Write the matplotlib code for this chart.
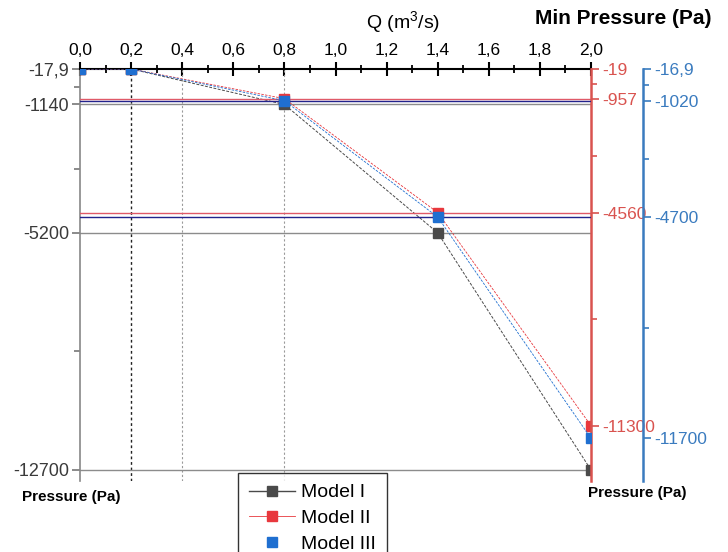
import numpy as np
import matplotlib
matplotlib.use("Agg")
from matplotlib import pyplot as plt
from matplotlib.lines import Line2D
from matplotlib.ticker import FixedLocator, FuncFormatter

plt.rcParams['font.family'] = ['Liberation Sans', 'DejaVu Sans']
plt.rcParams['mathtext.default'] = 'regular'

# flow rate (m3/s) and min pressure (Pa) for each model
q = [0.0, 0.2, 0.8, 1.4, 2.0]
p_model1 = [-17.9, -17.9, -1140, -5200, -12700]
p_model2 = [-19, -19, -957, -4560, -11300]
p_model3 = [-16.9, -16.9, -1020, -4700, -11700]
names = ['Model I', 'Model II', 'Model III']

# reference lines drawn across the plot
ref1 = [-1140, -5200, -12700]
ref2 = [-957, -4560]
ref3 = [-1020, -4700]
vlines = [0.2, 0.4, 0.8]

c1 = '#4a4a4a'
c2 = '#e8383d'
c3 = '#1f6fd0'
c2_axis = '#d9534f'
c3_axis = '#3a7bbf'


def fmt(v):
    s = ('%.1f' % v) if v != int(v) else ('%d' % v)
    return s.replace('.', ',')


def mids(vals):
    v = sorted(set(vals))
    return [(a + b) / 2. for a, b in zip(v[:-1], v[1:])]


fig = plt.figure(figsize=(7.28, 5.52), dpi=100)
L, R, T, B = 80 / 728., 591 / 728., 1 - 69 / 552., 1 - 481 / 552.
ax = fig.add_axes([L, B, R - L, T - B])
axr = ax.twinx()
axb = ax.twinx()

ax.set_xlim(0, 2.0)
ax.set_ylim(-13050, -17.9)
axr.set_ylim(-13050, -19)
axb.set_ylim(-13050, -16.9)

# top Q axis
ax.xaxis.tick_top()
ax.set_xticks(np.arange(0, 2.01, 0.2))
ax.xaxis.set_minor_locator(FixedLocator(np.arange(0.1, 2.0, 0.2)))
ax.xaxis.set_major_formatter(FuncFormatter(lambda v, p: ('%.1f' % v).replace('.', ',')))
ax.tick_params(axis='x', which='major', direction='inout', length=10, width=1.5,
               labelsize=12.5, pad=3, colors='black')
ax.tick_params(axis='x', which='minor', direction='inout', length=6, width=1.3, colors='black')

# left axis (Model I)
ax.set_yticks(sorted(set(p_model1)))
ax.set_yticklabels([fmt(v) for v in sorted(set(p_model1))])
ax.yaxis.set_minor_locator(FixedLocator(mids(p_model1)))
ax.tick_params(axis='y', which='major', direction='out', length=6, width=1.2,
               labelsize=13, colors='#777777', labelcolor='#3a3a3a', pad=2)
ax.tick_params(axis='y', which='minor', direction='out', length=4, width=1.2, colors='#777777')

# right axes (Model II, Model III)
for a, vals, col in [(axr, p_model2, c2_axis), (axb, p_model3, c3_axis)]:
    a.set_yticks(sorted(set(vals)))
    a.set_yticklabels([fmt(v) for v in sorted(set(vals))])
    a.yaxis.set_minor_locator(FixedLocator(mids(vals)))
    a.tick_params(axis='y', which='major', direction='out', length=6, width=1.2,
                  labelsize=12.5, colors=col, pad=2)
    a.tick_params(axis='y', which='minor', direction='out', length=4, width=1.2, colors=col)
    for s in ['top', 'left', 'bottom']:
        a.spines[s].set_visible(False)
    a.spines['right'].set_color(col)
    a.spines['right'].set_linewidth(1.8)
axb.spines['right'].set_position(('axes', (643 - 80) / (591 - 80.)))

ax.spines['top'].set_linewidth(1.5)
ax.spines['top'].set_color('black')
ax.spines['left'].set_color('#888888')
ax.spines['left'].set_linewidth(1.2)
ax.spines['bottom'].set_visible(False)
ax.spines['right'].set_visible(False)

# vertical dotted guides
ax.axvline(vlines[0], color='#222222', lw=1.0, ls=(0, (2, 2)))
for x in vlines[1:]:
    ax.axvline(x, color='#9a9a9a', lw=0.8, ls=(0, (2, 2)))

# horizontal reference lines
for y in ref1:
    ax.axhline(y, color='#8c8c8c', lw=1.0)
for y in ref2:
    axr.axhline(y, color='#e05a68', lw=1.0)
for y in ref3:
    axb.axhline(y, color='#23238c', lw=1.0)

# data
ax.plot(q, p_model1, color=c1, lw=0.7, ls=(0, (3, 1.5)), marker='s', ms=7, mec=c1, mfc=c1)
axr.plot(q, p_model2, color=c2, lw=0.6, ls=(0, (3, 1.5)), marker='s', ms=7, mec=c2, mfc=c2)
axb.plot(q, p_model3, color=c3, lw=0.6, ls=(0, (3, 1.5)), marker='s', ms=7, mec=c3, mfc=c3)

# labels
fig.text(403 / 728., 1 - 22 / 552., 'Q (m$^3$/s)', ha='center', va='center', fontsize=14)
fig.text(623 / 728., 1 - 18 / 552., 'Min Pressure (Pa)', ha='center', va='center',
         fontsize=15, fontweight='bold')
fig.text(22 / 728., 1 - 497 / 552., 'Pressure (Pa)', ha='left', va='center',
         fontsize=11, fontweight='bold')
fig.text(637 / 728., 1 - 493 / 552., 'Pressure (Pa)', ha='center', va='center',
         fontsize=11, fontweight='bold')

handles = [Line2D([], [], color=c1, lw=1.0, marker='s', ms=7),
           Line2D([], [], color=c2, lw=0.6, marker='s', ms=7),
           Line2D([], [], color=c3, lw=0, marker='s', ms=7)]
leg = fig.legend(handles, names, loc='upper left', bbox_to_anchor=(238 / 728., 1 - 473 / 552.),
                 fontsize=14, frameon=True, fancybox=False, edgecolor='black',
                 handlelength=2.4, handletextpad=0.3, labelspacing=0.42, borderpad=0.55,
                 borderaxespad=0)
leg.get_frame().set_linewidth(1.0)

fig.savefig('out.png', dpi=100)
